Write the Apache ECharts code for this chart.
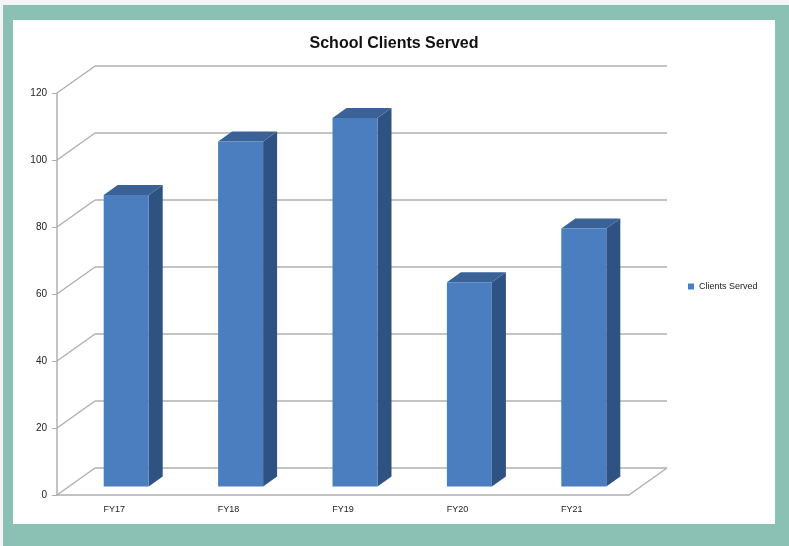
<!DOCTYPE html>
<html>
<head>
<meta charset="utf-8">
<script src="https://cdn.jsdelivr.net/npm/echarts@6/dist/echarts.min.js"></script>
<style>
  body { margin: 0; background: #f4f4f4; }
  .frame { position: absolute; left: 3px; top: 5px; width: 786px; height: 541px; background: #8bc1b4; }
  #chart { position: absolute; left: 13px; top: 20px; width: 762px; height: 504px; background: #fff; }
</style>
</head>
<body>
<div class="frame"></div>
<div id="chart"></div>
<script>
const categories = ['FY17', 'FY18', 'FY19', 'FY20', 'FY21']
const clientsServed = [87, 103, 110, 61, 77]
const yTicks = [0, 20, 40, 60, 80, 100, 120]

// 3d look: back wall offset and bar depth (pixels)
const wallDx = 38, wallDy = -27
const faceDx = 12, faceDy = -8.5
const depthDx = 14, depthDy = -10
const barWidth = 45

const gridColor = '#b0b0b0'
const frontColor = '#4a7ebf'
const sideColor = '#2e5282'
const topColor = '#3a6296'

const chart = echarts.init(document.getElementById('chart'))

const renderBar = (params, api) => {
  const base = api.coord([api.value(0), 0])
  const top = api.coord([api.value(0), api.value(1)])
  const cx = base[0] + faceDx
  const l = cx - barWidth / 2
  const r = cx + barWidth / 2
  const yb = base[1] + faceDy
  const yt = top[1] + faceDy
  return {
    type: 'group',
    children: [
      { type: 'polygon', shape: { points: [[r, yt], [r + depthDx, yt + depthDy], [r + depthDx, yb + depthDy], [r, yb]] }, style: { fill: sideColor } },
      { type: 'polygon', shape: { points: [[l, yt], [l + depthDx, yt + depthDy], [r + depthDx, yt + depthDy], [r, yt]] }, style: { fill: topColor } },
      { type: 'rect', shape: { x: l, y: yt, width: barWidth, height: yb - yt }, style: { fill: frontColor } }
    ]
  }
}

const renderWall = (params, api) => {
  const p = api.coord([0, api.value(1)])
  const half = api.size([1, 0])[0] / 2
  const x0 = p[0] - half
  const children = [
    { type: 'line', shape: { x1: x0, y1: p[1], x2: x0 + wallDx, y2: p[1] + wallDy }, style: { stroke: gridColor, lineWidth: 1.5 } }
  ]
  if (api.value(1) === 0) {
    const q = api.coord([categories.length - 1, 0])
    const x1 = q[0] + half
    children.push({ type: 'line', shape: { x1: x1, y1: q[1], x2: x1 + wallDx, y2: q[1] + wallDy }, style: { stroke: gridColor, lineWidth: 1.5 } })
  }
  return { type: 'group', children }
}

const option = {
  animation: false,
  title: {
    text: 'School Clients Served',
    left: 'center',
    top: 11,
    textStyle: { fontFamily: 'Liberation Sans', fontWeight: 'bold', fontSize: 16, color: '#111' }
  },
  legend: {
    data: ['Clients Served'],
    left: 675,
    top: 262,
    padding: 0,
    icon: 'rect',
    itemWidth: 6,
    itemHeight: 6,
    itemGap: 4,
    textStyle: { fontFamily: 'Liberation Sans', fontSize: 9, color: '#222' }
  },
  grid: [
    { left: 44, top: 73, width: 572, height: 402 },
    { left: 44 + wallDx, top: 73 + wallDy, width: 572, height: 402 }
  ],
  xAxis: [
    {
      gridIndex: 0,
      type: 'category',
      data: categories,
      axisLine: { lineStyle: { color: gridColor, width: 1.5 } },
      axisTick: { length: 4, lineStyle: { color: gridColor } },
      axisLabel: { margin: 10, fontFamily: 'Liberation Sans', fontSize: 9, color: '#222' }
    },
    { gridIndex: 1, type: 'category', data: categories, show: false }
  ],
  yAxis: [
    {
      gridIndex: 0,
      type: 'value',
      min: 0,
      max: 120,
      interval: 20,
      axisLine: { show: true, lineStyle: { color: gridColor, width: 1.5 } },
      axisTick: { show: true, length: 5, lineStyle: { color: gridColor } },
      splitLine: { show: false },
      axisLabel: { margin: 10, fontFamily: 'Liberation Sans', fontSize: 10, color: '#222' }
    },
    {
      gridIndex: 1,
      type: 'value',
      min: 0,
      max: 120,
      interval: 20,
      axisLine: { show: false },
      axisTick: { show: false },
      axisLabel: { show: false },
      splitLine: { show: true, lineStyle: { color: gridColor, width: 1.5 } }
    }
  ],
  series: [
    {
      name: 'walls',
      type: 'custom',
      xAxisIndex: 0,
      yAxisIndex: 0,
      clip: false,
      silent: true,
      renderItem: renderWall,
      data: yTicks.map(v => [0, v])
    },
    {
      name: 'Clients Served',
      type: 'custom',
      xAxisIndex: 0,
      yAxisIndex: 0,
      clip: false,
      itemStyle: { color: frontColor },
      renderItem: renderBar,
      data: clientsServed.map((v, i) => [i, v])
    }
  ]
}

chart.setOption(option)
</script>
</body>
</html>
